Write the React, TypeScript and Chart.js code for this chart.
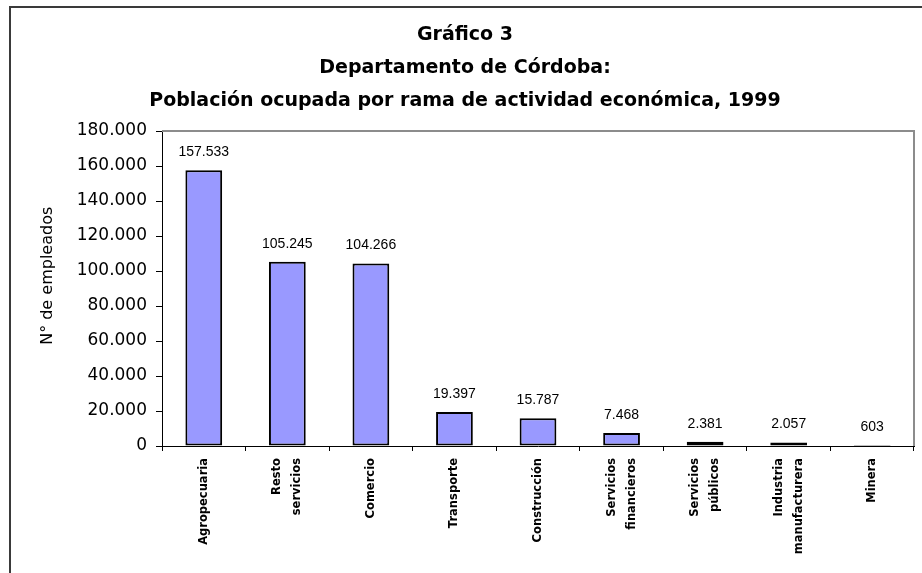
import React, { useEffect, useRef } from 'react';
import { Chart, registerables } from 'chart.js';

Chart.register(...registerables);

const categories: (string | string[])[] = [
  'Agropecuaria',
  ['Resto', 'servicios'],
  'Comercio',
  'Transporte',
  'Construcción',
  ['Servicios', 'financieros'],
  ['Servicios', 'públicos'],
  ['Industria', 'manufacturera'],
  'Minera',
];
const values: number[] = [157533, 105245, 104266, 19397, 15787, 7468, 2381, 2057, 603];
const titleLines: string[] = [
  'Gráfico 3',
  'Departamento de Córdoba:',
  'Población ocupada por rama de actividad económica, 1999',
];
const yAxisTitle = '     N° de empleados';
const yMin = 0;
const yMax = 180000;
const yStep = 20000;

const X_LABEL_FONT = 'bold 11.5px "DejaVu Sans", sans-serif';
const X_LABEL_LINE = 20;

function fmt(n: number): string {
  return String(Math.round(n)).replace(/\B(?=(\d{3})+(?!\d))/g, '.');
}

const framePlugin = {
  id: 'framePlugin',
  beforeDraw(chart: any) {
    const ctx = chart.ctx;
    ctx.save();
    ctx.fillStyle = '#ffffff';
    ctx.fillRect(0, 0, chart.width, chart.height);
    ctx.strokeStyle = '#3a3a3a';
    ctx.lineWidth = 2;
    ctx.beginPath();
    ctx.moveTo(10, chart.height + 5);
    ctx.lineTo(10, 7);
    ctx.lineTo(chart.width + 5, 7);
    ctx.stroke();
    ctx.restore();
  },
  afterDatasetsDraw(chart: any) {
    const { ctx, chartArea } = chart;
    ctx.save();
    ctx.strokeStyle = '#8c8c8c';
    ctx.lineWidth = 2;
    ctx.beginPath();
    ctx.moveTo(chartArea.left, chartArea.top);
    ctx.lineTo(chartArea.right, chartArea.top);
    ctx.lineTo(chartArea.right, chartArea.bottom);
    ctx.stroke();
    ctx.restore();
  },
};

// Rotated category labels, centred on each category of the x scale
const xLabels = {
  id: 'xLabels',
  afterDraw(chart: any) {
    const ctx = chart.ctx;
    const xs = chart.scales.x;
    const labels = chart.data.labels as (string | string[])[];
    ctx.save();
    ctx.font = X_LABEL_FONT;
    ctx.fillStyle = '#000';
    ctx.textAlign = 'right';
    ctx.textBaseline = 'middle';
    labels.forEach((lab, i) => {
      const lines = Array.isArray(lab) ? lab : [lab];
      const px = xs.getPixelForValue(i);
      const top = xs.top + 12;
      lines.forEach((line, j) => {
        const cx = px + (j - (lines.length - 1) / 2) * X_LABEL_LINE;
        ctx.save();
        ctx.translate(cx, top);
        ctx.rotate(-Math.PI / 2);
        ctx.fillText(line, 0, 0);
        ctx.restore();
      });
    });
    ctx.restore();
  },
};

const valueLabels = {
  id: 'valueLabels',
  afterDatasetsDraw(chart: any) {
    const ctx = chart.ctx;
    const meta = chart.getDatasetMeta(0);
    const data = chart.data.datasets[0].data as number[];
    ctx.save();
    ctx.font = '14px "Liberation Sans", Arial, sans-serif';
    ctx.fillStyle = '#000';
    ctx.textAlign = 'center';
    ctx.textBaseline = 'middle';
    meta.data.forEach((el: any, i: number) => {
      ctx.fillText(fmt(data[i]), el.x, el.y - 18);
    });
    ctx.restore();
  },
};

export default function App() {
  const ref = useRef<HTMLCanvasElement | null>(null);
  useEffect(() => {
    if (!ref.current) return;
    const chart = new Chart(ref.current, {
      type: 'bar',
      data: {
        labels: categories,
        datasets: [
          {
            data: values,
            backgroundColor: '#9999ff',
            borderColor: '#000000',
            borderWidth: 2,
            borderSkipped: false,
            barPercentage: 0.44,
            categoryPercentage: 1,
          },
        ],
      },
      options: {
        animation: false,
        responsive: true,
        maintainAspectRatio: false,
        layout: { padding: { left: 16, right: 8, top: 0, bottom: 0 } },
        plugins: {
          legend: { display: false },
          tooltip: { enabled: false },
          title: {
            display: true,
            text: titleLines,
            color: '#000',
            font: { family: '"DejaVu Sans", sans-serif', size: 19, weight: 'bold', lineHeight: 1.737 },
            padding: { top: 19, bottom: 13 },
          },
        },
        scales: {
          x: {
            offset: true,
            grid: { display: true, drawOnChartArea: false, offset: true, tickLength: 5, color: '#000' },
            border: { display: true, color: '#000', width: 1 },
            ticks: { display: false, autoSkip: false },
            afterFit(scale: any) {
              scale.height = 127;
            },
          },
          y: {
            min: yMin,
            max: yMax,
            grid: { display: true, drawOnChartArea: false, tickLength: 6, color: '#000' },
            border: { display: true, color: '#000', width: 1 },
            ticks: {
              stepSize: yStep,
              color: '#000',
              padding: 9,
              font: { family: '"DejaVu Sans", sans-serif', size: 17 },
              callback: (v: any) => fmt(Number(v)),
            },
            title: {
              display: true,
              text: yAxisTitle,
              color: '#000',
              font: { family: '"DejaVu Sans", sans-serif', size: 16 },
              padding: { top: 22, bottom: 0 },
            },
            afterFit(scale: any) {
              scale.width = 146;
            },
          },
        },
      },
      plugins: [framePlugin, valueLabels, xLabels],
    });
    return () => chart.destroy();
  }, []);
  return (
    <div style={{ position: 'fixed', left: 0, top: 0, width: 922, height: 573 }}>
      <canvas ref={ref} />
    </div>
  );
}
